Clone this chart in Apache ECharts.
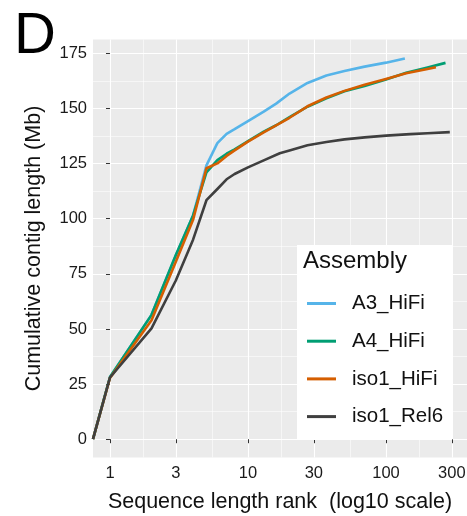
<!DOCTYPE html>
<html>
<head>
<meta charset="utf-8">
<script src="https://cdn.jsdelivr.net/npm/echarts@6/dist/echarts.min.js"></script>
<style>html,body{margin:0;padding:0;background:#fff}#c{width:467px;height:516px}</style>
</head>
<body>
<div id="c"></div>
<script>
// ---- data (rank 0 is drawn at the panel's left edge, like ggplot's -Inf) ----
const seriesNames = ["A3_HiFi", "A4_HiFi", "iso1_HiFi", "iso1_Rel6"];
const seriesColors = ["#56B4E9", "#009E73", "#D55E00", "#3F3F3F"];

const a3Ranks = [0, 1, 2, 3, 4, 5, 6, 7, 8, 10, 13, 16, 20, 27, 37, 50, 70, 100, 137];
const a3Values = [0, 28.1, 56.4, 83.3, 101.5, 124.2, 134.3, 138.5, 140.6, 144.3, 148.6, 152.2, 156.8, 161.6, 165.0, 167.0, 169.0, 170.8, 172.7];

const a4Ranks = [0, 1, 2, 3, 4, 5, 6, 7, 8, 10, 13, 16, 20, 27, 37, 50, 70, 100, 140, 200, 270];
const a4Values = [0, 28.2, 56.4, 83.5, 101.5, 121.0, 126.6, 129.5, 131.5, 135.2, 139.5, 142.4, 146.1, 150.8, 154.6, 157.8, 160.2, 163.2, 166.2, 168.6, 170.7];

const isoHiFiRanks = [0, 1, 2, 3, 4, 5, 6, 7, 8, 10, 13, 16, 20, 27, 37, 50, 70, 100, 140, 200, 230];
const isoHiFiValues = [0, 27.8, 54.0, 80.5, 99.5, 122.9, 125.1, 128.5, 131.0, 135.0, 139.2, 142.3, 145.8, 151.0, 155.0, 158.0, 160.8, 163.4, 166.0, 167.9, 168.7];

const rel6Ranks = [0, 1, 2, 3, 4, 5, 6, 7, 8, 10, 13, 17, 20, 27, 37, 50, 70, 100, 150, 200, 290];
const rel6Values = [0, 28.0, 50.3, 72.0, 90.5, 108.4, 113.5, 117.9, 120.3, 123.3, 126.5, 129.7, 131.0, 133.3, 134.8, 136.0, 136.9, 137.7, 138.4, 138.8, 139.3];

const xTickLabels = [1, 3, 10, 30, 100, 300];
const yTickLabels = [0, 25, 50, 75, 100, 125, 150, 175];

// ---- scales ----
const xMinLog = -0.123, xMaxLog = 2.587;
const yMin = -8.3, yMax = 181.3;
const lg = v => v > 0 ? Math.log10(v) : xMinLog;
const xMajor = xTickLabels.map(v => Math.log10(v));
const xMinor = xMajor.slice(0, -1).map((v, i) => (v + xMajor[i + 1]) / 2);
const yMinor = yTickLabels.slice(0, -1).map(v => v + 12.5);

const allRanks = [a3Ranks, a4Ranks, isoHiFiRanks, rel6Ranks];
const allValues = [a3Values, a4Values, isoHiFiValues, rel6Values];

const chart = echarts.init(document.getElementById('c'), null, {renderer: 'canvas'});
const FONT = '"Liberation Sans", Arial, sans-serif';

const series = seriesNames.map((name, i) => ({
  name, type: 'line', xAxisIndex: 0, yAxisIndex: 0,
  data: allRanks[i].map((r, j) => [lg(r), allValues[i][j]]),
  showSymbol: false, symbol: 'none', animation: false,
  lineStyle: {width: 2.6, color: seriesColors[i], cap: 'butt', join: 'round'},
  itemStyle: {color: seriesColors[i]},
  z: 3
}));
series.push({type: 'line', xAxisIndex: 1, yAxisIndex: 1, data: [], silent: true});

chart.setOption({
  animation: false,
  backgroundColor: '#ffffff',
  grid: {left: 93, top: 39.5, right: 0, bottom: 58.5, show: true, backgroundColor: '#EBEBEB', borderWidth: 0,
    containLabel: false, outerBoundsMode: 'none'},
  xAxis: [{
    type: 'value', min: xMinLog, max: xMaxLog, position: 'bottom',
    name: 'Sequence length rank  (log10 scale)', nameLocation: 'middle', nameGap: 34,
    nameTextStyle: {fontFamily: FONT, fontSize: 21.5, color: '#111'},
    axisLine: {show: false},
    axisTick: {show: true, customValues: xMajor, length: 4, lineStyle: {color: '#333', width: 1}},
    axisLabel: {customValues: xMajor, margin: 7, fontFamily: FONT, fontSize: 16.5, color: '#1a1a1a',
      formatter: v => String(Math.round(Math.pow(10, v)))},
    splitLine: {show: true, lineStyle: {color: '#ffffff', width: 1.1}}
  }, {
    type: 'value', min: xMinLog, max: xMaxLog, position: 'bottom',
    axisLine: {show: false}, axisLabel: {show: false},
    axisTick: {show: false, customValues: xMinor},
    splitLine: {show: true, lineStyle: {color: '#ffffff', width: 0.55}}
  }],
  yAxis: [{
    type: 'value', min: yMin, max: yMax,
    name: 'Cumulative contig length (Mb)', nameLocation: 'middle', nameGap: 48,
    nameTextStyle: {fontFamily: FONT, fontSize: 21.5, color: '#111'},
    axisLine: {show: false},
    axisTick: {show: true, customValues: yTickLabels, length: 4, lineStyle: {color: '#333', width: 1}},
    axisLabel: {customValues: yTickLabels, margin: 6, fontFamily: FONT, fontSize: 16.5, color: '#1a1a1a'},
    splitLine: {show: true, lineStyle: {color: '#ffffff', width: 1.1}}
  }, {
    type: 'value', min: yMin, max: yMax,
    axisLine: {show: false}, axisLabel: {show: false},
    axisTick: {show: false, customValues: yMinor},
    splitLine: {show: true, lineStyle: {color: '#ffffff', width: 0.55}}
  }],
  legend: {
    data: seriesNames, orient: 'vertical', left: 297, top: 245,
    backgroundColor: '#ffffff', padding: [48, 9, 13, 10],
    icon: 'rect', itemWidth: 29, itemHeight: 3, itemGap: 16.7,
    textStyle: {fontFamily: FONT, fontSize: 20.5, color: '#111', lineHeight: 20, padding: [0, 0, 0, 11]},
    selectedMode: false
  },
  graphic: [
    {type: 'text', left: 303, top: 249.5, silent: true, z: 100,
      style: {text: 'Assembly', fontFamily: FONT, fontSize: 24, fill: '#111'}},
    {type: 'text', x: 35, y: 37, silent: true,
      style: {text: 'D', fontFamily: FONT, fontSize: 58, fill: '#000', align: 'center', verticalAlign: 'middle'}}
  ],
  series
});
</script>
</body>
</html>
